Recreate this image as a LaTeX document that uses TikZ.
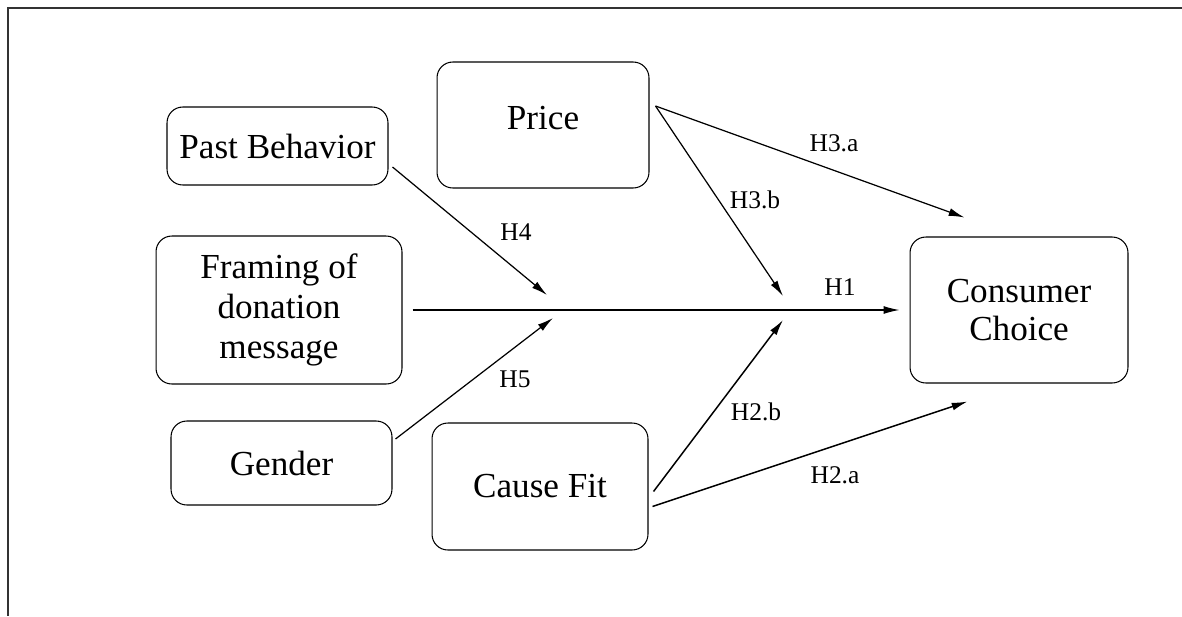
\documentclass[tikz,border=0pt]{standalone}
\usepackage{fontspec}
\setmainfont{Liberation Serif}
\usepackage{tikz}
\usetikzlibrary{calc}
\usetikzlibrary{positioning}
\usetikzlibrary{arrows.meta}
\tikzstyle{factornode} = [draw, rounded corners=9pt, line width=0.6pt, align=center, inner sep=0pt, font=\fontsize{20}{23}\selectfont]
\tikzstyle{hyplabel} = [inner sep=0pt, font=\fontsize{14.5}{16}\selectfont]
\tikzstyle{hyparrow} = [-{Latex[length=9pt,width=4.5pt]}, line width=0.7pt]

\begin{document}
\begin{tikzpicture}[x=0.02cm, y=-0.02cm]
\useasboundingbox (0,0) rectangle (1182,616);
\draw[line width=1.5pt, black!80] (1182,8) -- (8,8) -- (8,616);

\node[factornode, minimum width=4.92cm, minimum height=2.96cm] (framing) at (279,310) {Framing of\\donation\\message};
\node[factornode, minimum width=4.42cm, minimum height=1.56cm] (past) at ($(framing)+(-1.5,-164)$) {Past Behavior};
\node[factornode, minimum width=4.42cm, minimum height=1.68cm] (gender) at ($(framing)+(2.5,153)$) {Gender};
\node[factornode, minimum width=4.24cm, minimum height=2.52cm, text depth=8pt] (price) at (543,125) {Price};
\node[factornode, minimum width=4.32cm, minimum height=2.54cm] (causefit) at ($(price)+(-3,361.5)$) {Cause Fit};
\node[factornode, minimum width=4.36cm, minimum height=2.92cm, font=\fontsize{20}{22}\selectfont] (consumer) at (1019,310) {Consumer\\Choice};

\coordinate (h4tip) at (547,295);
\coordinate (h5tip) at (553,318);
\coordinate (h3btip) at (783,296);
\coordinate (h2btip) at (783,320);
\coordinate (h3atip) at ($(consumer.north west)+(55,-19)$);
\coordinate (h2atip) at ($(consumer.south west)+(58,18)$);

\draw[hyparrow] ($(framing.east)+(10,0)$) -- ($(consumer.west)+(-10,0)$);
\draw[hyparrow] ($(past.east)+(4,21)$) -- (h4tip);
\draw[hyparrow] ($(gender.east)+(3,-24)$) -- (h5tip);
\draw[hyparrow] ($(price.east)+(6,-19)$) -- (h3atip);
\draw[hyparrow] ($(price.east)+(6,-19)$) -- (h3btip);
\draw[hyparrow, line width=0.85pt] ($(causefit.east)+(5,5)$) -- (h2btip);
\draw[hyparrow, line width=0.85pt] ($(causefit.east)+(4,20)$) -- (h2atip);

\node[hyplabel] (lblH1) at (840,287) {H1};
\node[hyplabel] (lblH3a) at (834,143) {H3.a};
\node[hyplabel] (lblH3b) at (755,200) {H3.b};
\node[hyplabel] (lblH4) at (516,232) {H4};
\node[hyplabel] (lblH5) at (515,379) {H5};
\node[hyplabel] (lblH2b) at (756,412) {H2.b};
\node[hyplabel] (lblH2a) at (835,475) {H2.a};
\end{tikzpicture}
\end{document}
